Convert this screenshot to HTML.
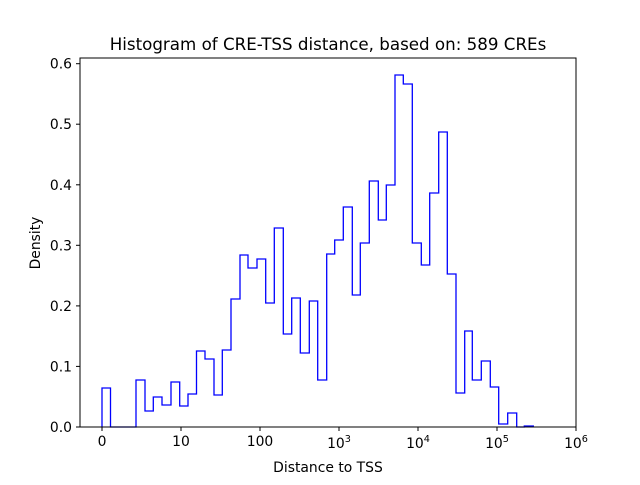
<!DOCTYPE html>
<html><head><meta charset="utf-8"><style>
html,body{margin:0;padding:0;background:#fff;}
text{font-family:"DejaVu Sans","Liberation Sans",sans-serif;fill:#000;}
</style></head><body>
<svg width="640" height="480" viewBox="0 0 640 480" xmlns="http://www.w3.org/2000/svg">
<rect width="640" height="480" fill="#fff"/>
<path fill="none" stroke="#0000ff" stroke-width="1.3" d="M102,427 V388 H110.5 V427 H136 V380 H145 V411 H153.3 V397 H162 V405 H171 V382 H179.7 V406 H188 V394 H196.5 V351 H205 V359 H214 V395 H222.3 V350 H231 V299 H240 V255 H248 V268 H257 V259 H265.7 V303 H274.3 V228 H283.3 V334 H291.7 V298 H300.3 V353 H309.3 V301 H317.7 V380 H326.7 V254 H334.7 V240 H343.3 V207 H352.3 V295 H360.3 V243 H369.3 V181 H378.3 V220 H386.3 V185 H395 V75 H403.3 V84 H412.3 V243 H421.3 V265 H429.7 V193 H438.7 V132 H447.3 V274 H456 V393 H464.7 V331 H472.3 V380 H481.3 V361 H490.3 V387 H498.7 V424 H507.7 V413 H516.7 V427 H524.3 V426 H533.3 V427"/>
<rect x="80" y="58" width="496" height="369" fill="none" stroke="#000" stroke-width="1"/>
<g stroke="#000" stroke-width="1">
<line x1="102" y1="427" x2="102" y2="431"/><line x1="181" y1="427" x2="181" y2="431"/><line x1="260" y1="427" x2="260" y2="431"/><line x1="339" y1="427" x2="339" y2="431"/><line x1="418" y1="427" x2="418" y2="431"/><line x1="497" y1="427" x2="497" y2="431"/><line x1="576" y1="427" x2="576" y2="431"/>
<line x1="76" y1="427" x2="80" y2="427"/><line x1="76" y1="366.4" x2="80" y2="366.4"/><line x1="76" y1="305.9" x2="80" y2="305.9"/><line x1="76" y1="245.3" x2="80" y2="245.3"/><line x1="76" y1="184.8" x2="80" y2="184.8"/><line x1="76" y1="124.2" x2="80" y2="124.2"/><line x1="76" y1="63.7" x2="80" y2="63.7"/>
</g>
<g font-size="13.9" text-anchor="end">
<text x="72" y="432">0.0</text><text x="72" y="371.4">0.1</text><text x="72" y="310.9">0.2</text><text x="72" y="250.3">0.3</text><text x="72" y="189.8">0.4</text><text x="72" y="129.2">0.5</text><text x="72" y="68.7">0.6</text>
</g>
<g font-size="13.9" text-anchor="middle">
<text x="102" y="446">0</text><text x="181" y="446">10</text><text x="260" y="446">100</text>
<text x="339" y="448">10<tspan font-size="9.7" dy="-6">3</tspan></text>
<text x="418" y="448">10<tspan font-size="9.7" dy="-6">4</tspan></text>
<text x="497" y="448">10<tspan font-size="9.7" dy="-6">5</tspan></text>
<text x="576" y="448">10<tspan font-size="9.7" dy="-6">6</tspan></text>
<text x="328" y="472">Distance to TSS</text>
<text x="328" y="50" font-size="16.7">Histogram of CRE-TSS distance, based on: 589 CREs</text>
</g>
<text font-size="13.9" text-anchor="middle" transform="translate(40,243) rotate(-90)">Density</text>
</svg>
</body></html>
